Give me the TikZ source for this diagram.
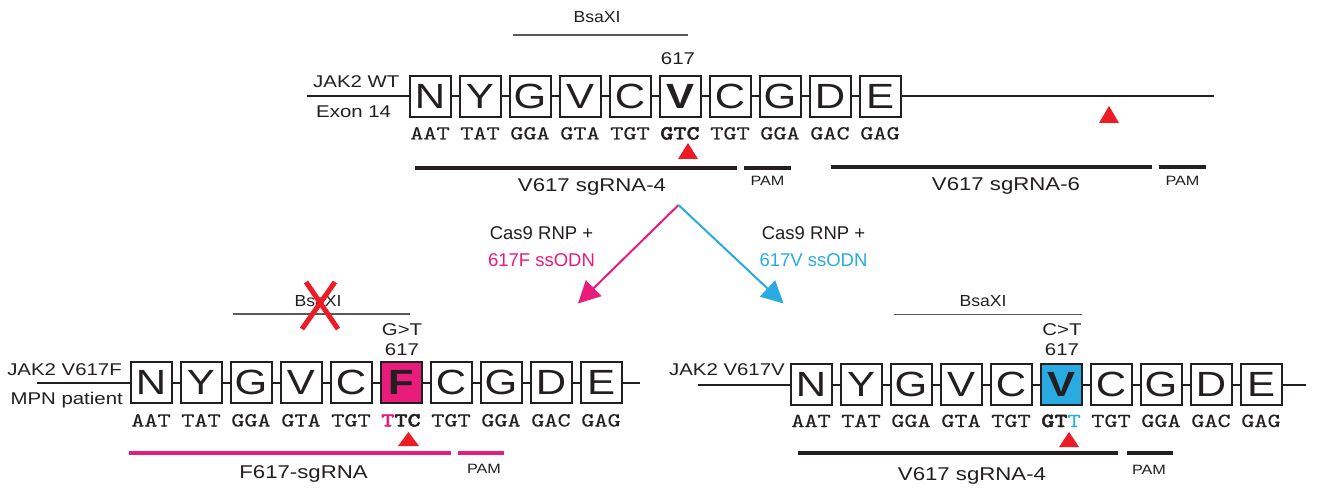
\documentclass[tikz,border=0pt]{standalone}
\usepackage{fontspec}
\setmainfont{Liberation Sans}
\newfontfamily\lblfont{Liberation Sans}[FakeStretch=1.2]
\newfontfamily\sitefont{Liberation Sans}[FakeStretch=1.1]
\newfontfamily\boxfont{Liberation Sans}[FakeStretch=1.2]
\newfontfamily\cdnfont{lmmono10-regular.otf}[FakeStretch=1.25,UprightFeatures={FakeBold=0.1},BoldFont=lmmonolt10-bold.otf,BoldFeatures={FakeBold=2}]
\usetikzlibrary{arrows.meta}
\definecolor{ink}{RGB}{35,31,32}
\definecolor{mypink}{RGB}{232,28,122}
\definecolor{myblue}{RGB}{41,171,226}
\definecolor{myred}{RGB}{237,28,36}
\definecolor{siteline}{RGB}{90,90,90}
\tikzset{
  aa/.style={draw=ink, line width=2pt, fill=white, minimum width=41pt, minimum height=41pt,
    inner sep=0pt, font=\boxfont\fontsize{35}{35}\selectfont, text=ink},
  aapink/.style={aa, fill=mypink},
  aablue/.style={aa, fill=myblue},
  codon/.style={font=\cdnfont\fontsize{20}{20}\selectfont, text=ink, inner sep=0pt, anchor=base},
  lbl/.style={font=\lblfont\fontsize{17}{17}\selectfont, text=ink, inner sep=0pt},
  small/.style={font=\lblfont\fontsize{17}{17}\selectfont, text=ink, inner sep=0pt, anchor=base},
  sitetxt/.style={font=\sitefont\fontsize{16}{16}\selectfont, text=ink, inner sep=0pt, anchor=base},
  pamtxt/.style={font=\lblfont\fontsize{13.5}{13.5}\selectfont, text=ink, inner sep=0pt, anchor=base},
  guidetxt/.style={font=\lblfont\fontsize{18.5}{18.5}\selectfont, text=ink, inner sep=0pt, anchor=base},
  castxt/.style={font=\fontsize{18.5}{18.5}\selectfont, inner sep=0pt, anchor=base},
  backbone/.style={draw=ink, line width=2pt},
  sitebar/.style={draw=siteline, line width=1.2pt},
  grna/.style={draw=ink, line width=4pt},
  grnapink/.style={draw=mypink, line width=4pt},
  cutmark/.style={fill=myred},
  flowarrow/.style={line width=2pt, -{Triangle[length=22pt,width=22pt]}},
}
\begin{document}
\begin{tikzpicture}[x=1pt,y=-1pt]
\fill[white] (0,0) rectangle (1317,489);
\useasboundingbox (0,0) rectangle (1317,489);

% ================= top row : JAK2 WT =================
\node[sitetxt] (tsite) at (597,23) {BsaXI};
\coordinate (tsA) at (513,35); \coordinate (tsB) at (688,35);
\draw[sitebar] (tsA) -- (tsB);
\node[small] (t617) at (678,65) {617};
\node[lbl, anchor=base west] (tname) at (313,87.5) {JAK2 WT};
\node[lbl, anchor=base west] (texon) at (316,117.3) {Exon 14};
\coordinate (tA) at (307,96.5); \coordinate (tB) at (1214,96.5);
\draw[backbone] (tA) -- (tB);
\foreach \L/\i in {N/0,Y/1,G/2,V/3,C/4,C/6,G/7,D/8,E/9}
  \node[aa] (t\i) at ({430+50*\i},96.5) {\L};
\node[aa] (t5) at (680,96.5) {\bfseries V};
\foreach \c/\i in {AAT/0,TAT/1,GGA/2,GTA/3,TGT/4,TGT/6,GGA/7,GAC/8,GAG/9}
  \node[codon] (tc\i) at ({430+50*\i},139.5) {\c};
\node[codon] (tc5) at (680,139.5) {\bfseries GTC};
\fill[cutmark] (678,159) -- (698,159) -- (688,143) -- cycle;
\fill[cutmark] (1099,123) -- (1119,123) -- (1109,106) -- cycle;
\draw[grna] (415,168) -- (737,168);
\draw[grna] (744,168) -- (791,168);
\draw[grna] (831,167.5) -- (1152,167.5);
\draw[grna] (1159,167.5) -- (1206,167.5);
\node[guidetxt] (tg4) at (592,191.5) {V617 sgRNA-4};
\node[pamtxt] (tp1) at (767.5,186) {PAM};
\node[guidetxt] (tg6) at (1006,191) {V617 sgRNA-6};
\node[pamtxt] (tp2) at (1182.5,186) {PAM};

% ================= arrows =================
\coordinate (apex) at (678.5,205);
\coordinate (fTip) at (578,303.5);
\coordinate (vTip) at (783.5,303.5);
\draw[flowarrow, draw=mypink, fill=mypink] (apex) -- (fTip);
\draw[flowarrow, draw=myblue, fill=myblue] (apex) -- (vTip);
\node[castxt, text=ink] (cL1) at (541.5,240) {Cas9 RNP +};
\node[castxt, text=mypink] (cL2) at (541.5,266.7) {617F ssODN};
\node[castxt, text=ink] (cR1) at (813.5,240) {Cas9 RNP +};
\node[castxt, text=myblue] (cR2) at (813.5,266.7) {617V ssODN};

% ================= bottom left : JAK2 V617F =================
\node[sitetxt] (lsite) at (318,306.5) {BsaXI};
\coordinate (lsA) at (233,314); \coordinate (lsB) at (410,314);
\draw[sitebar] (lsA) -- (lsB);
\draw[myred, line width=5pt] (306,282) -- (338,329);
\draw[myred, line width=5pt] (335,282) -- (302,329);
\node[small] (lmut) at (402,335) {G>T};
\node[small] (l617) at (402,355) {617};
\node[lbl, anchor=base east] (lname) at (122,375) {JAK2 V617F};
\node[lbl, anchor=base east] (lpat) at (123,404.5) {MPN patient};
\coordinate (lA) at (37,382.5); \coordinate (lB) at (640,382.5);
\draw[backbone] (lA) -- (lB);
\foreach \L/\i in {N/0,Y/1,G/2,V/3,C/4,C/6,G/7,D/8,E/9}
  \node[aa] (l\i) at ({151+50*\i},382.5) {\L};
\node[aapink] (l5) at (401,382.5) {\bfseries F};
\foreach \c/\i in {AAT/0,TAT/1,GGA/2,GTA/3,TGT/4,TGT/6,GGA/7,GAC/8,GAG/9}
  \node[codon] (lc\i) at ({151+50*\i},426.5) {\c};
\node[codon] (lc5) at (401,426.5) {\bfseries\textcolor{mypink}{T}TC};
\fill[cutmark] (398,446) -- (419,446) -- (408.5,432) -- cycle;
\draw[grnapink] (129,453) -- (451,453);
\draw[grnapink] (458,453) -- (504,453);
\node[guidetxt] (lg) at (303.5,478) {F617-sgRNA};
\node[pamtxt] (lp) at (484,473.3) {PAM};

% ================= bottom right : JAK2 V617V =================
\node[sitetxt] (rsite) at (983,306) {BsaXI};
\coordinate (rsA) at (894,314.5); \coordinate (rsB) at (1082,314.5);
\draw[sitebar] (rsA) -- (rsB);
\node[small] (rmut) at (1062,335) {C>T};
\node[small] (r617) at (1062,355) {617};
\node[lbl, anchor=base east] (rname) at (785,375) {JAK2 V617V};
\coordinate (rA) at (698,384.5); \coordinate (rB) at (1306,384.5);
\draw[backbone] (rA) -- (rB);
\foreach \L/\i in {N/0,Y/1,G/2,V/3,C/4,C/6,G/7,D/8,E/9}
  \node[aa] (r\i) at ({811+50*\i},384.5) {\L};
\node[aablue] (r5) at (1061,384.5) {\bfseries V};
\foreach \c/\i in {AAT/0,TAT/1,GGA/2,GTA/3,TGT/4,TGT/6,GGA/7,GAC/8,GAG/9}
  \node[codon] (rc\i) at ({811+50*\i},427) {\c};
\node[codon] (rc5) at (1061,427) {\bfseries GT\mdseries\textcolor{myblue}{T}};
\fill[cutmark] (1059,447) -- (1079,447) -- (1069,432) -- cycle;
\draw[grna] (798,453.3) -- (1118,453.3);
\draw[grna] (1127,453.3) -- (1173,453.3);
\node[guidetxt] (rg) at (972,480) {V617 sgRNA-4};
\node[pamtxt] (rp) at (1149,474) {PAM};
\end{tikzpicture}
\end{document}
